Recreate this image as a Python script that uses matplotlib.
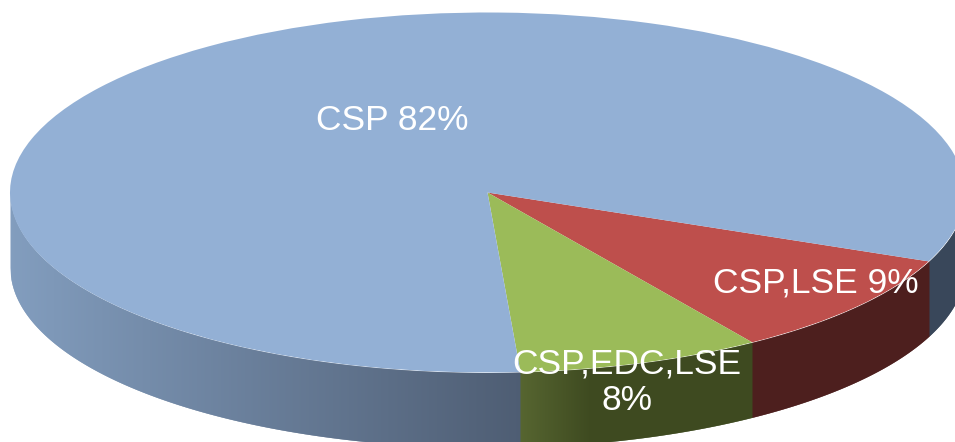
#!/usr/bin/env python3
import numpy as np
import matplotlib
matplotlib.use('Agg')
import matplotlib.pyplot as plt
from matplotlib.colors import to_rgb

labels = ['CSP,LSE 9%', 'CSP,EDC,LSE\n8%', 'CSP 82%']
shares = [9.4, 8.25, 82.35]
top_colors = ['#BE4F4C', '#9BBB59', '#93B0D5']

# pie geometry in pixels of the 955x442 picture
W, H = 955, 442
CX, CY = 487.5, 192.5
RX, RY = 477.5, 180
DEPTH = 75
START = 22.5


def px_to_data(x, y):
    return (x - CX) / RX, (CY - y) / RY


def blend(c0, c1, f):
    c0, c1 = np.array(to_rgb(c0)), np.array(to_rgb(c1))
    return tuple(c0 + (c1 - c0) * np.clip(f, 0, 1))


red_end = START + shares[0] * 3.6
green_end = red_end + shares[1] * 3.6
green_edge_px = CX + RX * np.cos(np.radians(green_end))


def wall_color(px, angle):
    # angle runs clockwise from the right-hand side of the pie
    if angle < START:
        return '#39475A'
    if angle < red_end:
        return '#4D1F1E'
    if angle < green_end:
        return blend('#566530', '#3E4A20', (px - green_edge_px) / 70)
    return blend('#829DBE', '#4E5D73', (px - (CX - RX)) / (green_edge_px - (CX - RX)))


fig = plt.figure(figsize=(W / 100, H / 100), dpi=100)
ax = fig.add_axes([0, 0, 1, 1])

ax.pie(shares, colors=top_colors, startangle=-START, counterclock=False,
       radius=1, wedgeprops={'linewidth': 0, 'zorder': 3})

# side wall, vertical strips so the shading can vary with x.
# each strip reaches over the next one, painted left to right, so no seams show
xs = np.arange(CX - RX, W + 1.0, 1.0)
for x0 in xs[:-1]:
    mid = x0 + 0.5
    angle = np.degrees(np.arccos(np.clip((mid - CX) / RX, -1, 1)))
    ux = (np.linspace(x0, min(x0 + 2, CX + RX), 5) - CX) / RX
    upper = -np.sqrt(np.clip(1 - ux ** 2, 0, 1))
    lower = upper - DEPTH / RY
    ax.fill_between(ux, lower, upper, color=wall_color(mid, angle), linewidth=0, zorder=1)

ax.set_aspect('auto')
ax.set_xlim((0 - CX) / RX, (W - CX) / RX)
ax.set_ylim((CY - H) / RY, CY / RY)
ax.axis('off')

# label centres
label_px = [(816, 283), (627, 382), (392, 120)]
for text, (lx, ly) in zip(labels, label_px):
    dx, dy = px_to_data(lx, ly)
    ax.text(dx, dy, text, color='white', fontsize=25.5, family='Liberation Sans',
            ha='center', va='center', linespacing=1.12, zorder=5)

fig.savefig('out.png', dpi=100, facecolor='white')
